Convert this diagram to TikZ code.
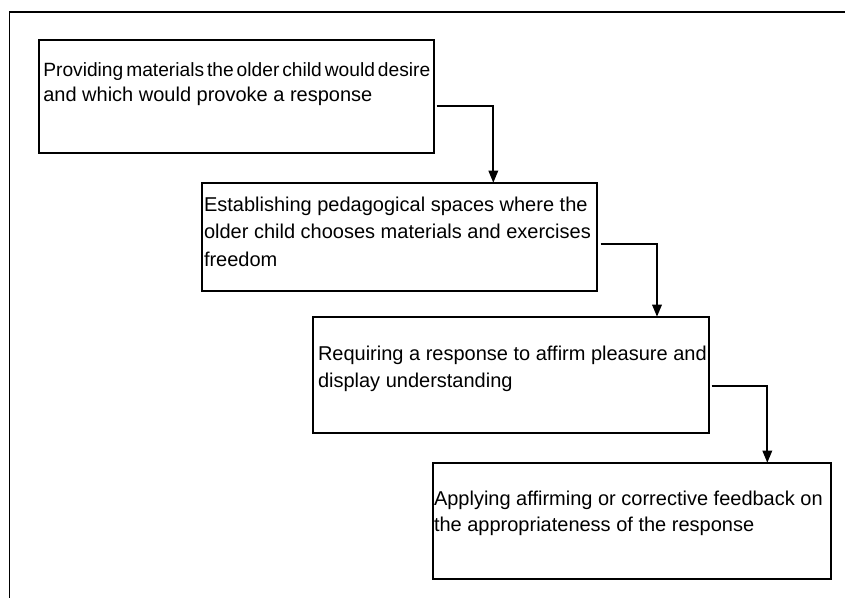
\documentclass[tikz,border=0pt]{standalone}
\usepackage{fontspec}
\setmainfont{Liberation Sans}
\usetikzlibrary{arrows.meta,calc}
\newcommand{\fitline}[2]{\hbox to #1{\spaceskip=.2em plus 1fil minus 1fil\relax #2}}
\tikzset{
  box/.style={draw=black, line width=1.8pt, rectangle, anchor=north west, inner sep=0pt, outer sep=0pt},
  txt/.style={anchor=base west, inner sep=0pt, outer sep=0pt, font=\fontsize{20}{27}\selectfont},
  conn/.style={draw=black, line width=1.7pt, -{Triangle[length=12pt,width=9.5pt]}},
  frameline/.style={draw=black, line width=1.9pt}
}
\begin{document}
\begin{tikzpicture}[x=1pt,y=-1pt]
\useasboundingbox (0,0) rectangle (845,597);
\fill[white] (0,0) rectangle (845,597);
% outer frame (open at right and bottom)
\draw[frameline] (9.5,600) -- (9.5,12) -- (850,12);
% boxes
\node[box, minimum width=395pt, minimum height=113pt] (b1) at (39,40) {};
\node[box, minimum width=394.5pt, minimum height=108pt] (b2) at (202.3,182.7) {};
\node[box, minimum width=396pt, minimum height=116.5pt] (b3) at (313.3,316.7) {};
\node[box, minimum width=398pt, minimum height=116.5pt] (b4) at (432.7,462.7) {};
% texts
\node[txt, font=\fontsize{19.2}{27}\selectfont] (t1a) at (43.3,76) {\fitline{387pt}{Providing materials the older child would desire}};
\node[txt] (t1b) at (43.3,101.5) {and which would provoke a response};
\node[txt] (t2a) at (204,211) {Establishing pedagogical spaces where the};
\node[txt] (t2b) at (204,238.3) {older child chooses materials and exercises};
\node[txt] (t2c) at (204,266) {freedom};
\node[txt] (t3a) at (318,360) {Requiring a response to affirm pleasure and};
\node[txt] (t3b) at (318,387) {display understanding};
\node[txt] (t4a) at (434,505) {Applying affirming or corrective feedback on};
\node[txt] (t4b) at (434,531.7) {the appropriateness of the response};
% connector start points
\coordinate (s1) at (436.7,105.7);
\coordinate (s2) at (600.7,244);
\coordinate (s3) at (711.7,385.7);
\draw[conn] (s1) -| ($(b2.north west)+(291,0)$);
\draw[conn] (s2) -| ($(b3.north west)+(343.7,0)$);
\draw[conn] (s3) -| ($(b4.north west)+(334.6,0)$);
\end{tikzpicture}
\end{document}
